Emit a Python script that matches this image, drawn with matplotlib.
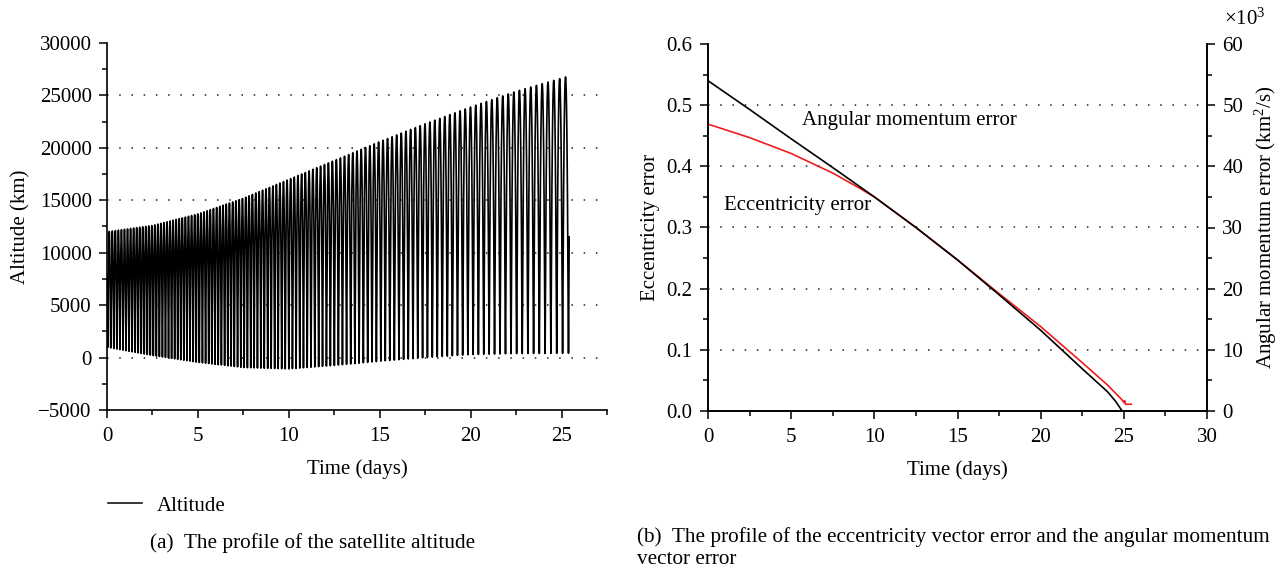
import numpy as np
import matplotlib
matplotlib.use("Agg")
import matplotlib.pyplot as plt
from matplotlib.ticker import MultipleLocator
from matplotlib.lines import Line2D

plt.rcParams['font.family'] = ['Liberation Serif', 'DejaVu Serif']
plt.rcParams['mathtext.fontset'] = 'custom'
plt.rcParams['mathtext.rm'] = 'Liberation Serif'
plt.rcParams['mathtext.it'] = 'Liberation Serif:italic'

# ---- satellite altitude: apogee / perigee envelope (km) ----
env_days = [0, 2.5, 5, 7.5, 10, 12.5, 15, 17.5, 20, 22.5, 25.3]
apogee_km = [12000, 12600, 13700, 15200, 17000, 18800, 20600, 22300, 23900, 25400, 26800]
perigee_km = [980, 200, -450, -950, -1080, -750, -350, 0, 290, 380, 410]
t_end_days = 25.42

# ---- error histories ----
h_days = [0, 2.5, 5, 7.5, 10, 12.5, 15, 17.5, 20, 22.5, 24.0, 24.5, 24.9, 25.4]
h_err_k = [54.0, 49.3, 44.5, 39.8, 35.0, 30.0, 24.7, 19.0, 13.2, 6.9, 3.2, 1.6, 0.0, 0.0]
e_days = [0, 2.5, 5, 7.5, 9, 10, 12.5, 15, 17.5, 20, 22.5, 24, 24.9, 25.0, 25.05, 25.1, 25.45]
e_err = [0.469, 0.447, 0.421, 0.389, 0.366, 0.350, 0.300, 0.247, 0.192, 0.138, 0.079,
         0.043, 0.018, 0.014, 0.017, 0.011, 0.011]

# ---- propagate Keplerian motion along the slowly changing orbit ----
R_E = 6378.137
MU = 398600.4418
t = np.linspace(0, t_end_days, 40000)
ha = np.interp(t, env_days, apogee_km)
hp = np.interp(t, env_days, perigee_km)
a = R_E + (ha + hp) / 2
ecc = (ha - hp) / (2 * a)
n = np.sqrt(MU / a**3) * 86400.0  # rad/day
M = np.concatenate([[0.0], np.cumsum(0.5 * (n[1:] + n[:-1]) * np.diff(t))])
M += 0.76 - M[-1]
E = M + ecc * np.sin(M)
for _ in range(40):
    E = E - (E - ecc * np.sin(E) - M) / (1 - ecc * np.cos(E))
alt = a * (1 - ecc * np.cos(E)) - R_E

W, H = 1287, 574
fig = plt.figure(figsize=(W / 100, H / 100), dpi=100)
FS = 15
CAP = 15.3


def frac(x0, y0, x1, y1):
    return [x0 / W, 1 - y1 / H, (x1 - x0) / W, (y1 - y0) / H]


def dotted_grid(ax):
    lo, hi = ax.get_ylim()
    for v in ax.get_yticks():
        if lo < v < hi:
            ax.axhline(v, color='#222222', lw=1.1, ls=(0, (1, 7)), zorder=0)


def style(ax):
    ax.spines['top'].set_visible(False)
    ax.tick_params(which='both', direction='out', labelsize=FS, width=1.1)
    ax.tick_params(which='major', length=6)
    ax.tick_params(which='minor', length=3.5)
    ax.tick_params(axis='x', which='major', pad=6.5)
    ax.tick_params(axis='y', which='major', pad=5)
    for s in ax.spines.values():
        s.set_linewidth(1.2)


# ---- (a) altitude ----
ax1 = fig.add_axes(frac(107, 43, 607, 410))
ax1.plot(t, alt, color='black', lw=1.2)
ax1.set_xlim(0, 27.5)
ax1.set_ylim(-5000, 30000)
ax1.xaxis.set_major_locator(MultipleLocator(5))
ax1.xaxis.set_minor_locator(MultipleLocator(2.5))
ax1.yaxis.set_major_locator(MultipleLocator(5000))
ax1.yaxis.set_minor_locator(MultipleLocator(2500))
ax1.spines['right'].set_visible(False)
style(ax1)
dotted_grid(ax1)
ax1.set_xlabel('Time (days)', fontsize=FS, labelpad=9)
ax1.set_ylabel('Altitude (km)', fontsize=FS, labelpad=6)

fig.legend(handles=[Line2D([], [], color='black', lw=1.1)], labels=['Altitude'],
           loc='center left', bbox_to_anchor=(108 / W, 1 - 506 / H), frameon=False,
           fontsize=FS, handlelength=1.63, handletextpad=0.72, borderpad=0, borderaxespad=0)
fig.text(150 / W, 1 - 543 / H, '(a)  The profile of the satellite altitude',
         fontsize=CAP, va='center', ha='left')

# ---- (b) eccentricity / angular momentum errors ----
ax2 = fig.add_axes(frac(708, 44, 1207, 411))
ax2.set_xlim(0, 30)
ax2.set_ylim(0, 0.6)
ax2.xaxis.set_major_locator(MultipleLocator(5))
ax2.xaxis.set_minor_locator(MultipleLocator(2.5))
ax2.yaxis.set_major_locator(MultipleLocator(0.1))
ax2.yaxis.set_minor_locator(MultipleLocator(0.05))
ax2.yaxis.set_major_formatter(plt.FormatStrFormatter('%.1f'))
style(ax2)
dotted_grid(ax2)
ax2.plot(e_days, e_err, color='#ee1c1c', lw=1.2, zorder=3)
ax2.set_xlabel('Time (days)', fontsize=FS, labelpad=9)
ax2.set_ylabel('Eccentricity error', fontsize=FS, labelpad=5)

ax3 = ax2.twinx()
ax3.set_ylim(0, 60)
ax3.yaxis.set_major_locator(MultipleLocator(10))
ax3.yaxis.set_minor_locator(MultipleLocator(5))
style(ax3)
ax3.plot(h_days, h_err_k, color='black', lw=1.2, zorder=4)
ax3.set_ylabel('Angular momentum error (km$^2$/s)', fontsize=FS, labelpad=7)
fig.text(1224 / W, 1 - 19 / H, r'$\times10^3$', fontsize=FS, va='center', ha='left')

ax2.text(802 / W, 1 - 120 / H, 'Angular momentum error', transform=fig.transFigure,
         fontsize=FS, va='center', ha='left')
ax2.text(724 / W, 1 - 205 / H, 'Eccentricity error', transform=fig.transFigure,
         fontsize=FS, va='center', ha='left')

fig.text(637 / W, 1 - 537 / H,
         '(b)  The profile of the eccentricity vector error and the angular momentum',
         fontsize=CAP, va='center', ha='left')
fig.text(637 / W, 1 - 560 / H, 'vector error', fontsize=CAP, va='center', ha='left')

fig.savefig('out.png', dpi=100)
